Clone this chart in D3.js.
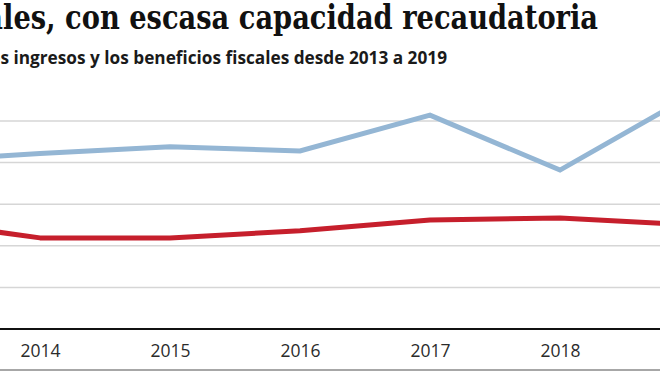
<!DOCTYPE html>
<html>
<head>
<meta charset="utf-8">
<title>Beneficios fiscales</title>
<style>
body { margin: 0; background: #fff; }
svg { display: block; overflow: hidden; }
</style>
<script src="https://d3js.org/d3.v7.min.js"></script>
</head>
<body>
<svg id="chart" width="660" height="371"></svg>
<script>
// data (units: one gridline = 1)
const years = [2013, 2014, 2015, 2016, 2017, 2018, 2019];
const tickYears = [2014, 2015, 2016, 2017, 2018];
const ingresos = [4.03, 4.22, 4.38, 4.28, 5.14, 3.82, 5.60];
const beneficios = [2.62, 2.19, 2.19, 2.36, 2.62, 2.67, 2.50];
const gridValues = [1, 2, 3, 4, 5];

const title = "Beneficios fiscales, con escasa capacidad recaudatoria";
const titleVisible = "les, con escasa capacidad recaudatoria";
const subtitle = "Evolución de los ingresos y los beneficios fiscales desde 2013 a 2019";
const subtitleVisible = "s ingresos y los beneficios fiscales desde 2013 a 2019";

const svg = d3.select("#chart");
const W = 660;

const x = d3.scaleLinear().domain([2014, 2018]).range([40, 560]);
const y = d3.scaleLinear().domain([0, 5]).range([329, 121]);

function measure(str, family, weight, size) {
    const t = svg.append("text")
        .style("font-family", family)
        .style("font-weight", weight)
        .style("font-size", size + "px")
        .text(str);
    const w = t.node().getComputedTextLength();
    t.remove();
    return w;
}

// title: big serif, squeezed so the visible part spans 595px
const titleFont = "'DejaVu Serif', serif";
const titleSize = 34;
const tFull = measure(title, titleFont, "bold", titleSize);
const tVis = measure(titleVisible, titleFont, "bold", titleSize);
svg.append("text")
    .attr("x", 598)
    .attr("y", 29)
    .attr("text-anchor", "end")
    .attr("textLength", tFull * 595 / tVis)
    .attr("lengthAdjust", "spacingAndGlyphs")
    .style("font-family", titleFont)
    .style("font-weight", "bold")
    .style("font-size", titleSize + "px")
    .style("fill", "#111")
    .text(title);

const subFont = "'Open Sans', sans-serif";
const subSize = 20 * 447 / measure(subtitleVisible, subFont, "bold", 20);
svg.append("text")
    .attr("x", 447)
    .attr("y", 64)
    .attr("text-anchor", "end")
    .style("font-family", subFont)
    .style("font-weight", "bold")
    .style("font-size", subSize + "px")
    .style("fill", "#1a1a1a")
    .text(subtitle);

// gridlines
svg.append("g")
    .selectAll("line")
    .data(gridValues)
    .join("line")
    .attr("x1", 0)
    .attr("x2", W)
    .attr("y1", d => y(d))
    .attr("y2", d => y(d))
    .style("stroke", "#d6d6d6")
    .style("stroke-width", 1.5);

const line = d3.line()
    .x((d, i) => x(years[i]))
    .y(d => y(d));

svg.append("path")
    .datum(ingresos)
    .attr("d", line)
    .style("fill", "none")
    .style("stroke", "#94b6d4")
    .style("stroke-width", 5)
    .style("stroke-linejoin", "miter");

svg.append("path")
    .datum(beneficios)
    .attr("d", line)
    .style("fill", "none")
    .style("stroke", "#c61f2c")
    .style("stroke-width", 5)
    .style("stroke-linejoin", "round");

// baseline
svg.append("line")
    .attr("x1", 0)
    .attr("x2", W)
    .attr("y1", y(0))
    .attr("y2", y(0))
    .style("stroke", "#111")
    .style("stroke-width", 2);

const xAxis = d3.axisBottom(x)
    .tickValues(tickYears)
    .tickSize(0)
    .tickPadding(0)
    .tickFormat(d3.format("d"));

const gx = svg.append("g")
    .attr("transform", "translate(0, 357)")
    .call(xAxis);
gx.select(".domain").remove();
gx.selectAll("text")
    .attr("dy", 0)
    .style("font-family", "'Open Sans', sans-serif")
    .style("font-size", "17.5px")
    .style("fill", "#2b2b2b");

// bottom rule
svg.append("line")
    .attr("x1", 0)
    .attr("x2", W)
    .attr("y1", 370)
    .attr("y2", 370)
    .style("stroke", "#8a8a8a")
    .style("stroke-width", 1.5);
</script>
</body>
</html>
